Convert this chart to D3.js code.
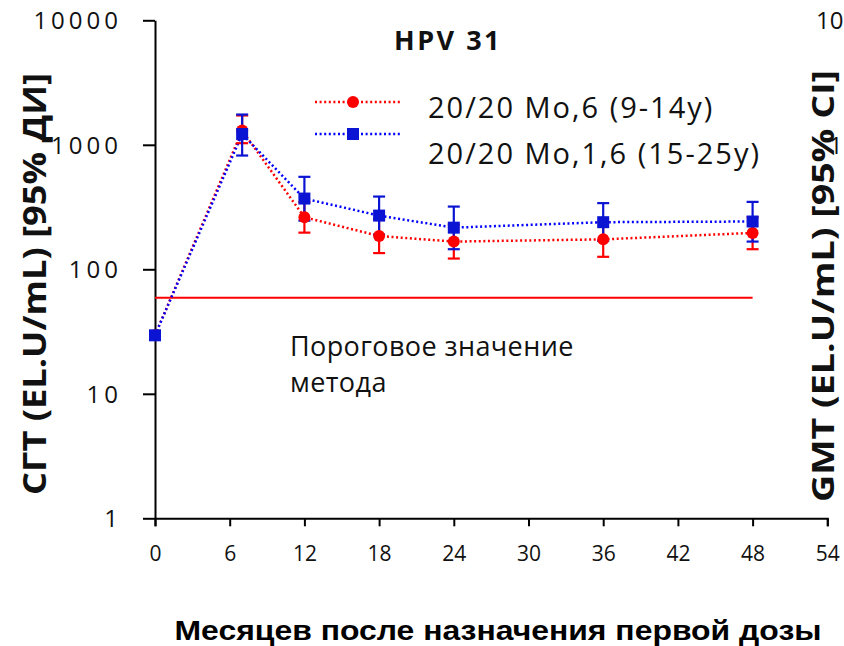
<!DOCTYPE html>
<html>
<head>
<meta charset="utf-8">
<script src="https://cdn.jsdelivr.net/npm/d3@7"></script>
<style>
  html, body { margin: 0; padding: 0; background: #fff; }
  svg { display: block; }
</style>
</head>
<body>
<svg id="chart" width="844" height="646"></svg>
<script>
// Months after first dose
const months = [0, 7, 12, 18, 24, 36, 48];

// 20/20 Mo,6 (9-14y) — GMT with 95% CI
const girlsGMT   = [29.5, 1300, 262, 185, 167, 174, 196];
const girlsLower = [29.5, 1030, 197, 135, 122, 126, 145];
const girlsUpper = [29.5, 1720, 348, 253, 228, 240, 262];

// 20/20 Mo,1,6 (15-25y) — GMT with 95% CI
const womenGMT   = [29.5, 1220, 370, 270, 216, 239, 242];
const womenLower = [29.5, 820, 246, 190, 145, 169, 167];
const womenUpper = [29.5, 1750, 553, 384, 319, 340, 348];

// Assay cut-off
const cutoff = 59;
const cutoffMonths = [0, 48];

const xTicks = [0, 6, 12, 18, 24, 30, 36, 42, 48, 54];
const yTicks = [1, 10, 100, 1000, 10000];

const seriesNames = ["20/20 Mo,6 (9-14y)", "20/20 Mo,1,6 (15-25y)"];
const RED = "#ff0000";
const BLUE = "#0a14d2";
const BLUE_LINE = "#0000ff";

const svg = d3.select("#chart");
const x = d3.scaleLinear().domain([0, 54]).range([155, 827.3]);
const y = d3.scaleLog().domain([1, 10000]).range([518.3, 20.3]);

const FONT = "'Open Sans', 'Noto Sans', sans-serif";

// Axes
const xAxis = svg.append("g")
  .attr("transform", `translate(0,${y(1)})`)
  .call(d3.axisBottom(x).tickValues(xTicks).tickSize(8).tickSizeOuter(8).tickPadding(20));
const yAxis = svg.append("g")
  .attr("transform", `translate(${x(0)},0)`)
  .call(d3.axisLeft(y).tickValues(yTicks).tickFormat(d3.format("d")).tickSize(12).tickSizeOuter(0).tickPadding(21));

[xAxis, yAxis].forEach(g => {
  g.select(".domain").attr("stroke", "#000").attr("stroke-width", 2);
  g.selectAll(".tick line").attr("stroke", "#000").attr("stroke-width", 2);
  g.selectAll(".tick text").attr("fill", "#111").attr("font-family", FONT);
});
xAxis.selectAll(".tick text").attr("font-size", 21);
yAxis.selectAll(".tick text").attr("font-size", 24).attr("letter-spacing", 4).attr("dy", "0.36em");

// Cut-off line
svg.append("line")
  .attr("x1", x(cutoffMonths[0])).attr("x2", x(cutoffMonths[1]))
  .attr("y1", y(cutoff)).attr("y2", y(cutoff))
  .attr("stroke", RED).attr("stroke-width", 2);

svg.append("text").attr("x", 290).attr("y", 356)
  .attr("font-family", FONT).attr("font-size", 27).attr("letter-spacing", 0.4).attr("fill", "#111")
  .text("Пороговое значение");
svg.append("text").attr("x", 290).attr("y", 392)
  .attr("font-family", FONT).attr("font-size", 27).attr("letter-spacing", 0.4).attr("fill", "#111")
  .text("метода");

const series = [
  { gmt: girlsGMT, lo: girlsLower, hi: girlsUpper, color: RED, lineColor: RED, shape: "circle" },
  { gmt: womenGMT, lo: womenLower, hi: womenUpper, color: BLUE, lineColor: BLUE_LINE, shape: "square" }
];

const line = d3.line().x(d => x(d.m)).y(d => y(d.v));

// Dotted connecting lines
series.forEach(s => {
  const pts = months.map((m, i) => ({ m, v: s.gmt[i] }));
  svg.append("path").datum(pts)
    .attr("d", line).attr("fill", "none")
    .attr("stroke", s.lineColor).attr("stroke-width", 2.5)
    .attr("stroke-dasharray", "2,2.6");
});

// Error bars (skip baseline where CI collapses)
series.forEach(s => {
  const g = svg.append("g").attr("stroke", s.color).attr("stroke-width", 2.2);
  months.forEach((m, i) => {
    if (s.lo[i] === s.hi[i]) return;
    const cx = x(m);
    g.append("line").attr("x1", cx).attr("x2", cx).attr("y1", y(s.lo[i])).attr("y2", y(s.hi[i]));
    g.append("line").attr("x1", cx - 6).attr("x2", cx + 6).attr("y1", y(s.lo[i])).attr("y2", y(s.lo[i]));
    g.append("line").attr("x1", cx - 6).attr("x2", cx + 6).attr("y1", y(s.hi[i])).attr("y2", y(s.hi[i]));
  });
});

// Markers
function marker(g, shape, cx, cy, color) {
  if (shape === "circle") {
    g.append("circle").attr("cx", cx).attr("cy", cy).attr("r", 6).attr("fill", color);
  } else {
    g.append("rect").attr("x", cx - 6).attr("y", cy - 6).attr("width", 12).attr("height", 12).attr("fill", color);
  }
}
series.forEach(s => {
  const g = svg.append("g");
  months.forEach((m, i) => marker(g, s.shape, x(m), y(s.gmt[i]), s.color));
});

// Title
svg.append("text").attr("x", 394).attr("y", 50)
  .attr("font-family", FONT).attr("font-weight", "bold").attr("font-size", 27)
  .attr("letter-spacing", 2.5).attr("fill", "#111")
  .text("HPV 31");

// Legend
const legendY = [102, 134];
const legendTextY = [118, 164];
series.forEach((s, i) => {
  svg.append("line").attr("x1", 315).attr("x2", 402).attr("y1", legendY[i]).attr("y2", legendY[i])
    .attr("stroke", s.lineColor).attr("stroke-width", 2.5).attr("stroke-dasharray", "2,2.6");
  marker(svg, s.shape, 353, legendY[i], s.color);
  svg.append("text").attr("x", 428).attr("y", legendTextY[i])
    .attr("font-family", FONT).attr("font-size", 29).attr("letter-spacing", 2).attr("fill", "#111")
    .text(seriesNames[i]);
});

// Y-axis title
svg.append("text")
  .attr("transform", "translate(46,284) rotate(-90)")
  .attr("text-anchor", "middle")
  .attr("font-family", FONT).attr("font-weight", "bold").attr("font-size", 33).attr("fill", "#111")
  .attr("textLength", 422).attr("lengthAdjust", "spacingAndGlyphs")
  .text("СГТ (EL.U/mL) [95% ДИ]");

// X-axis title
svg.append("text")
  .attr("x", 498).attr("y", 640).attr("text-anchor", "middle")
  .attr("font-family", "'Liberation Sans', Arial, sans-serif").attr("font-weight", "bold")
  .attr("font-size", 28).attr("fill", "#000")
  .attr("textLength", 647).attr("lengthAdjust", "spacingAndGlyphs")
  .text("Месяцев после назначения первой дозы");

// Neighbouring panel: only its leftmost glyphs fall inside the frame
svg.append("text").attr("x", 816).attr("y", 20).attr("dy", "0.36em")
  .attr("font-family", FONT).attr("font-size", 24).attr("fill", "#111")
  .text("10");
svg.append("text").attr("x", 829).attr("y", 145).attr("dy", "0.36em")
  .attr("font-family", FONT).attr("font-size", 24).attr("fill", "#111")
  .text("1");
svg.append("text")
  .attr("transform", "translate(834,286) rotate(-90)")
  .attr("text-anchor", "middle")
  .attr("font-family", FONT).attr("font-weight", "bold").attr("font-size", 31).attr("fill", "#111")
  .attr("textLength", 432).attr("lengthAdjust", "spacingAndGlyphs")
  .text("GMT (EL.U/mL) [95% CI]");
</script>
</body>
</html>
